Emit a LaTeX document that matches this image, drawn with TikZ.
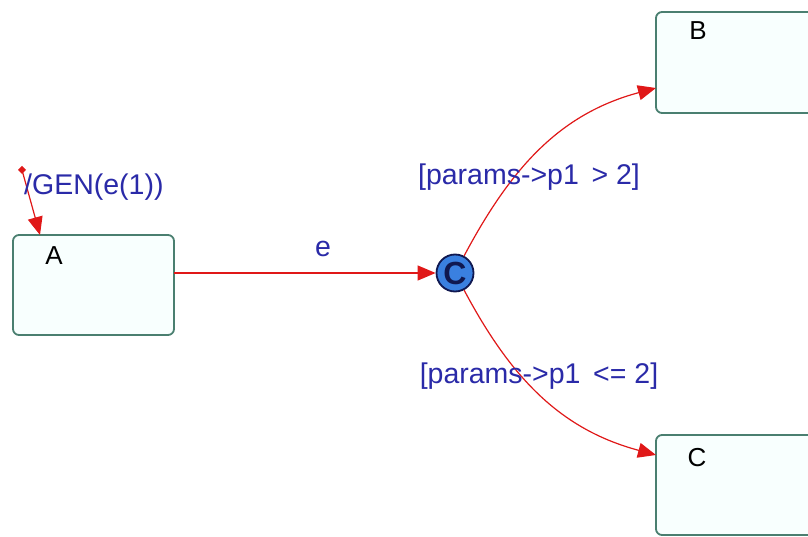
\documentclass[tikz,border=0pt]{standalone}
\usepackage{fontspec}
\setmainfont{Liberation Sans}
\usetikzlibrary{arrows.meta,shapes.geometric}
\definecolor{stateborder}{HTML}{4A7F70}
\definecolor{statefill}{HTML}{F8FFFE}
\definecolor{trred}{HTML}{E01818}
\definecolor{lblue}{HTML}{2A2AA8}
\definecolor{chfill}{HTML}{3A80E0}
\definecolor{chborder}{HTML}{101850}
\tikzset{
  statebox/.style={draw=stateborder,fill=statefill,line width=1.8pt,rounded corners=6pt},
  statelbl/.style={font=\fontsize{26}{28}\selectfont,text=black,inner sep=0pt},
  trlbl/.style={font=\fontsize{28.5}{30}\selectfont,text=lblue,inner sep=0pt},
  trans/.style={draw=trred,line width=1.2pt,-{Triangle[length=18pt,width=15pt]}},
  choice/.style={circle,draw=chborder,fill=chfill,line width=1.8pt,minimum size=37pt,inner sep=0pt,
    font=\fontsize{32}{32}\selectfont\bfseries,text=chborder},
}
\begin{document}
\begin{tikzpicture}[x=1pt,y=-1pt]
\useasboundingbox (0,0) rectangle (808,537);
\clip (0,0) rectangle (808,537);
\fill[white] (0,0) rectangle (808,537);
% states
\draw[statebox] (13,235) rectangle (174,335);
\node[statelbl] (A) at (54,256) {A};
\coordinate (Aw) at (174,273);
\draw[statebox] (656,12) rectangle (830,113);
\node[statelbl] (B) at (698,31) {B};
\coordinate (Bin) at (656,88);
\draw[statebox] (656,435) rectangle (830,535);
\node[statelbl] (C) at (697,458) {C};
\coordinate (Cin) at (656,455);
% choice point
\node[choice] (ch) at (455,273) {C};
% initial transition
\coordinate (init) at (22,170);
\coordinate (Atop) at (40,235);
\fill[trred] (22,166) -- (26,170) -- (22,174) -- (18,170) -- cycle;
\draw[trans] (init) -- (Atop);
\node[trlbl,anchor=west] (gen) at (24,187) {/GEN(e(1))};
% A -> choice
\draw[trans] (Aw) -- (ch);
\node[trlbl] (elbl) at (323,249) {e};
% choice -> B and C
\draw[trans] (ch.62) to[out=62,in=195] (Bin);
\draw[trans] (ch.-62) to[out=-62,in=165] (Cin);
\node[trlbl] (g1) at (529,177) {[params-{}>p1 \,> 2]};
\node[trlbl] (g2) at (539,376) {[params-{}>p1 \,<= 2]};
\end{tikzpicture}
\end{document}
